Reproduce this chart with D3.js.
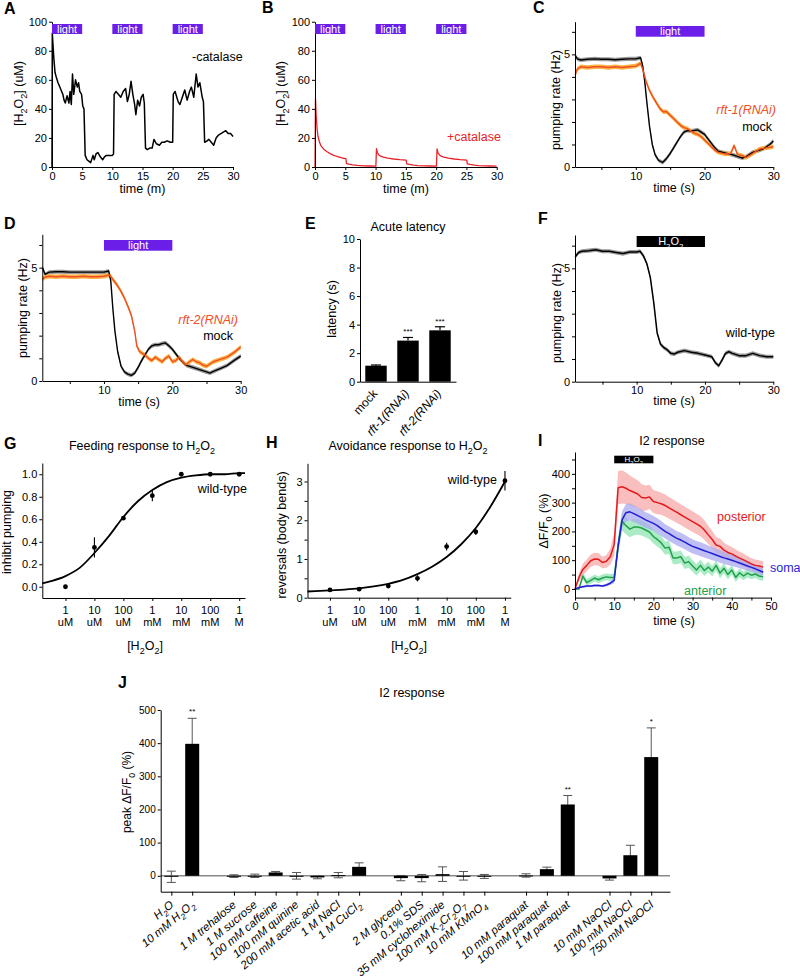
<!DOCTYPE html>
<html>
<head>
<meta charset="utf-8">
<script src="https://cdn.jsdelivr.net/npm/d3@7"></script>
<style>
  body { margin: 0; background: #fff; }
  svg { font-family: "Liberation Sans", Arial, sans-serif; background: #fff; }
</style>
</head>
<body>
<svg id="fig" width="800" height="980"></svg>
<script>
// A / B: H2O2 (uM) over time (min)
const lightMinutes = [[0, 5], [10, 15], [20, 25]]
const noCatalase = [[0,0],[0.05,92],[0.15,85],[0.3,75],[0.5,65],[0.7,62],[1.0,58],[1.3,55],[1.6,52],[1.8,50],[2.0,46],[2.2,44],[2.5,49],[2.8,44],[3.0,52],[3.2,43],[3.4,64],[3.6,50],[3.9,60],[4.2,55],[4.4,58],[4.6,52],[4.9,50],[5.1,42],[5.3,40],[5.5,8],[5.8,5],[6.1,4],[6.4,3],[6.8,8],[7.0,5],[7.3,9],[7.6,10],[8.0,7],[8.4,5],[8.7,7],[9.0,8],[9.5,8],[10.0,8],[10.2,9],[10.3,50],[10.6,52],[11.0,50],[11.4,48],[11.8,52],[12.2,54],[12.5,45],[12.8,50],[13.1,59],[13.4,50],[13.7,43],[13.9,36],[14.2,46],[14.5,42],[14.8,48],[15.1,50],[15.3,44],[15.5,13],[15.8,12],[16.2,13],[16.6,13],[16.9,19],[17.3,16],[17.8,15],[18.2,17],[18.6,17],[19.1,18],[19.6,17],[20.0,17],[20.1,50],[20.4,52],[20.9,45],[21.2,43],[21.6,48],[22.0,53],[22.4,46],[22.8,52],[23.1,55],[23.5,48],[23.9,64],[24.2,55],[24.5,58],[24.9,48],[25.1,45],[25.3,17],[25.7,18],[26.0,19],[26.4,17],[26.8,15],[27.2,20],[27.6,22],[28.0,23],[28.4,24],[28.8,25],[29.2,23],[29.6,23],[30.0,21]]
const withCatalase = [[0,0],[0.08,47],[0.2,35],[0.35,26],[0.5,21],[0.75,17],[1,14.5],[1.5,12],[2,10.5],[2.5,9.2],[3,8.2],[3.5,7.4],[4,6.8],[4.5,6.2],[5.1,5.8],[5.2,2.4],[5.6,2],[6.2,1.5],[7,1.1],[8,0.8],[9,0.7],[10.05,0.6],[10.15,12.6],[10.3,10],[10.5,8.5],[10.8,7.5],[11.3,6.8],[12,6.1],[13,5.5],[14,5.1],[15.05,4.8],[15.15,2.2],[15.6,1.8],[16.3,1.3],[17,1],[18,0.8],[19,0.7],[20.05,0.6],[20.15,12.4],[20.3,10],[20.5,8.5],[20.8,7.5],[21.3,6.8],[22,6.1],[23,5.5],[24,5.1],[25.05,4.8],[25.15,2.2],[25.6,1.8],[26.3,1.3],[27,1],[28,0.8],[29,0.7],[30,0.6]]

// C / D / F: pumping rate (Hz) over time (s)
const stimSeconds = [[10, 20]]
const mockC = [[1.2,4.95],[1.5,4.8],[2,4.75],[3,4.78],[4,4.8],[5,4.78],[6,4.78],[7,4.76],[8,4.78],[9,4.8],[10,4.8],[10.7,4.85],[11,4.5],[11.3,3.8],[11.6,2.9],[12,1.8],[12.4,1.0],[12.8,0.55],[13.3,0.3],[13.9,0.2],[14.4,0.35],[15,0.6],[15.5,0.85],[16,1.1],[16.5,1.35],[17,1.55],[17.5,1.62],[18,1.6],[18.5,1.62],[19,1.65],[19.5,1.55],[20,1.45],[20.5,1.25],[21,1.05],[21.5,0.85],[22,0.7],[23,0.62],[24,0.55],[25,0.45],[25.5,0.4],[26,0.45],[26.5,0.55],[27,0.65],[28,0.75],[28.5,0.8],[29,0.9],[29.5,1.0],[30,1.15]]
const rft1 = [[1.2,4.1],[1.5,4.35],[2,4.45],[3,4.42],[4,4.45],[5,4.45],[6,4.42],[7,4.45],[8,4.42],[9,4.45],[10,4.48],[10.7,4.6],[11,4.35],[11.5,3.8],[12,3.4],[12.5,3.1],[13,2.85],[13.5,2.6],[14,2.45],[14.5,2.45],[15,2.3],[15.5,2.15],[16,2.0],[16.5,1.85],[17,1.75],[17.5,1.7],[18,1.6],[18.5,1.5],[19,1.45],[19.5,1.35],[20,1.2],[20.5,1.05],[21,0.9],[21.5,0.75],[22,0.65],[23,0.58],[23.8,0.6],[24.3,0.95],[24.8,0.55],[25.5,0.5],[26,0.42],[26.5,0.5],[27,0.6],[28,0.8],[29,0.85],[30,0.9]]
const mockD = [[1,5.0],[1.4,4.7],[2,4.8],[3,4.82],[4,4.82],[5,4.8],[6,4.8],[7,4.8],[8,4.8],[9,4.8],[10,4.8],[10.7,4.85],[11,4.4],[11.3,3.2],[11.6,2.2],[12,1.3],[12.5,0.65],[13,0.4],[13.5,0.3],[14,0.25],[14.5,0.35],[15,0.6],[15.5,0.9],[16,1.15],[16.5,1.4],[17,1.55],[17.5,1.6],[18,1.6],[18.5,1.65],[19,1.68],[19.5,1.55],[20,1.4],[20.5,1.2],[21,1.0],[21.5,0.85],[22,0.7],[23,0.6],[24,0.5],[25,0.4],[25.5,0.35],[26,0.42],[27,0.55],[28,0.68],[29,0.9],[30,1.1]]
const rft2 = [[1,4.5],[1.5,4.6],[2,4.62],[3,4.6],[4,4.62],[5,4.6],[6,4.6],[7,4.62],[8,4.6],[9,4.6],[10,4.62],[10.8,4.68],[11.5,4.4],[12,4.2],[12.5,3.95],[13,3.65],[13.5,3.3],[14,2.9],[14.5,2.2],[14.8,1.55],[15.2,1.3],[15.7,1.2],[16,1.15],[16.5,1.0],[17,0.9],[17.5,1.05],[18,0.95],[18.5,0.85],[19,1.0],[19.5,1.1],[20,0.85],[20.5,0.9],[21,1.05],[21.5,0.85],[22,0.72],[22.5,0.85],[23,0.95],[23.5,0.85],[24,0.8],[24.5,0.7],[25,0.65],[25.5,0.75],[26,0.85],[27,0.95],[28,1.05],[29,1.25],[30,1.5]]
const wildTypeF = [[1,5.5],[1.5,5.7],[2,5.75],[3,5.78],[4,5.82],[5,5.75],[6,5.75],[7,5.7],[8,5.65],[9,5.72],[10,5.72],[10.5,5.75],[11,5.55],[11.5,5.2],[12,4.6],[12.5,3.5],[13,2.15],[13.5,1.65],[14,1.5],[14.5,1.4],[15,1.25],[15.5,1.22],[16,1.3],[17,1.37],[18,1.3],[19,1.25],[20,1.18],[21,1.1],[21.5,0.85],[22,0.7],[22.5,0.95],[23,1.25],[23.5,1.32],[24,1.25],[25,1.15],[26,1.15],[27,1.25],[28,1.15],[29,1.1],[30,1.1]]

// E: acute latency
const latencyGroups = ['mock', 'rft-1(RNAi)', 'rft-2(RNAi)']
const latencyMean = [1.12, 2.88, 3.6]
const latencyErr = [0.05, 0.22, 0.25]
const latencyStars = ['', '***', '***']

// G / H: dose response, x = log10 molar
const doseLog = [-6, -5, -4, -3, -2, -1, 0]
const doseNumber = ['1', '10', '100', '1', '10', '100', '1']
const doseUnit = ['uM', 'uM', 'uM', 'mM', 'mM', 'mM', 'M']
const feedMean = [0.0, 0.35, 0.61, 0.81, 1.0, 1.0, 1.0]
const feedErr = [0, 0.09, 0.01, 0.05, 0.01, 0.01, 0.01]
const feedFit = [[-6.8,0.03],[-6.5,0.05],[-6,0.095],[-5.5,0.17],[-5,0.3],[-4.5,0.45],[-4,0.62],[-3.5,0.76],[-3,0.86],[-2.5,0.93],[-2,0.97],[-1.5,0.99],[-1,1.0],[-0.5,1.0],[0,1.01],[0.2,1.01]]
const avoidMean = [0.2, 0.22, 0.3, 0.5, 1.32, 1.7, 3.02]
const avoidErr = [0.04, 0.03, 0.05, 0.08, 0.1, 0.08, 0.25]
const avoidFit = [[-6.77,0.16],[-6.5,0.17],[-6,0.19],[-5.5,0.21],[-5,0.24],[-4.5,0.29],[-4,0.36],[-3.5,0.46],[-3,0.61],[-2.5,0.8],[-2,1.05],[-1.5,1.38],[-1,1.8],[-0.5,2.35],[0,3.0]]

// I: I2 calcium response
const iTime = [0,1,2,3,4,5,6,7,8,9,10,11,12,13,14,15,16,17,18,19,20,21,22,23,24,25,26,27,28,29,30,31,32,33,34,35,36,37,38,39,40,41,42,43,44,45,46,47,48]
const posterior = [0,40,68,82,98,104,103,92,96,112,155,352,355,350,342,336,330,318,316,320,304,300,296,290,282,274,266,258,250,242,234,226,218,205,188,172,153,148,135,127,122,114,107,101,94,87,82,80,76]
const posteriorSem = [0,15,20,20,22,22,22,20,22,28,40,58,58,55,52,50,48,46,44,42,40,40,38,38,38,37,37,36,36,36,36,35,35,34,32,30,28,27,26,25,24,23,22,22,21,20,20,20,20]
const soma = [0,5,8,10,10,12,12,10,14,20,30,150,240,265,268,262,255,248,240,234,228,220,210,200,192,184,176,170,163,155,148,143,138,133,128,123,118,113,108,104,100,95,90,85,80,75,70,64,58]
const somaSem = [0,3,4,4,4,4,4,4,5,6,10,25,30,30,30,29,28,28,27,27,26,26,26,25,25,25,25,25,25,25,25,24,24,24,23,23,22,22,21,21,20,19,18,17,16,15,14,13,12]
const anterior = [0,0,45,22,30,38,32,38,42,40,40,150,235,220,208,215,215,212,205,198,182,172,160,142,145,108,108,112,90,95,80,66,82,64,76,62,82,55,72,50,66,40,56,45,55,48,52,45,42]
const anteriorSem = [0,5,12,12,12,12,12,12,12,12,15,30,32,30,28,28,27,26,25,25,24,24,24,23,23,22,22,22,21,21,20,20,20,19,19,18,18,18,17,17,16,16,15,15,15,14,14,14,14]

// J: peak I2 response per compound
const compounds = ['H_2O', '10 mM H_2O_2', '1 M trehalose', '1 M sucrose', '100 mM caffeine', '100 mM quinine', '200 mM acetic acid', '1 M NaCl', '1 M CuCl_2', '2 M glycerol', '0.1% SDS', '35 mM cycloheximide', '100 mM K_2Cr_2O_7', '10 mM KMnO_4', '10 mM paraquat', '100 mM paraquat', '1 M paraquat', '10 mM NaOCl', '100 mM NaOCl', '750 mM NaOCl']
const compoundGroup = [0,0,1,1,1,1,1,1,1,2,2,2,2,2,3,3,3,4,4,4]
const peakMean = [-3, 398, -1, 0, 10, 0, -5, 2, 27, -7, -7, 5, 0, -2, 1, 20, 215, -8, 62, 358]
const peakErr = [17, 77, 4, 5, 3, 10, 4, 8, 12, 8, 11, 22, 13, 6, 5, 6, 27, 5, 30, 88]
const peakStars = ['', '**', '', '', '', '', '', '', '', '', '', '', '', '', '', '', '**', '', '', '*']

const purple = '#6b1ee8'
const orange = '#f04e23'
const orangeBand = '#fbb448'
const FS = 12.5
const svg = d3.select('#fig')

// "_x" in a string makes x a subscript
function rich(t, str, size) {
    let low = false
    str.split(/(_[^_\s])/).filter(p => p).forEach(p => {
        if (p[0] === '_') {
            t.append('tspan').attr('dy', low ? 0 : size * 0.3).attr('font-size', size * 0.72).text(p[1])
            low = true
        } else {
            t.append('tspan').attr('dy', low ? -size * 0.3 : 0).text(p)
            low = false
        }
    })
    return t
}

function addText(x, y, str, o = {}) {
    const size = o.size || FS
    const t = svg.append('text').attr('x', x).attr('y', y)
        .attr('font-size', size)
        .attr('text-anchor', o.anchor || 'middle')
        .attr('fill', o.color || '#000')
    if (o.rotate) t.attr('transform', `rotate(${o.rotate},${x},${y})`)
    if (o.italic) t.attr('font-style', 'italic')
    if (o.bold) t.attr('font-weight', 'bold')
    return rich(t, str, size)
}

function styleAxis(g, size) {
    g.attr('font-family', null).attr('font-size', size)
    g.selectAll('text').attr('fill', '#000')
}

function leftAxis(y, x0, ticks, shown, fmt, size = 11) {
    const f = fmt || d3.format('d')
    svg.append('g').attr('transform', `translate(${x0},0)`)
        .call(d3.axisLeft(y).tickValues(ticks).tickSize(3).tickSizeOuter(0).tickPadding(2)
            .tickFormat(d => shown.includes(d) ? f(d) : ''))
        .call(g => styleAxis(g, size))
}

function bottomAxis(x, y0, ticks, shown, size = 11) {
    svg.append('g').attr('transform', `translate(0,${y0})`)
        .call(d3.axisBottom(x).tickValues(ticks).tickSize(3).tickSizeOuter(0).tickPadding(2)
            .tickFormat(d => shown.includes(d) ? d3.format('d')(d) : ''))
        .call(g => styleAxis(g, size))
}

function band(x, y, data, half, fill) {
    svg.append('path').datum(data).attr('fill', fill)
        .attr('d', d3.area().x(d => x(d[0])).y0(d => y(d[1] - half)).y1(d => y(d[1] + half)))
}

function trace(x, y, data, color, width) {
    svg.append('path').datum(data).attr('fill', 'none').attr('stroke', color)
        .attr('stroke-width', width).attr('stroke-linejoin', 'round')
        .attr('d', d3.line().x(d => x(d[0])).y(d => y(d[1])))
}

function stim(x, blocks, top, h, fill, label, size) {
    svg.append('g').selectAll('rect').data(blocks).join('rect')
        .attr('x', d => x(d[0])).attr('y', top)
        .attr('width', d => x(d[1]) - x(d[0])).attr('height', h)
        .attr('fill', fill)
    blocks.forEach(d => addText((x(d[0]) + x(d[1])) / 2, top + h / 2 + size * 0.36, label, { size, color: '#fff' }))
}

// ---------- A ----------
const xA = d3.scaleLinear().domain([0, 30]).range([52, 233])
const yA = d3.scaleLinear().domain([0, 100]).range([167, 21.7])
trace(xA, yA, noCatalase, '#000', 1.5)
leftAxis(yA, 52, [0, 20, 40, 60, 80, 100], [0, 20, 40, 60, 80, 100])
bottomAxis(xA, 167, [0, 5, 10, 15, 20, 25, 30], [0, 5, 10, 15, 20, 25, 30])
stim(xA, lightMinutes, 24, 10, purple, 'light', 11)
addText(4, 14, 'A', { anchor: 'start', bold: true, size: 16 })
addText(192, 61, '-catalase', { anchor: 'start' })
addText(142.5, 193, 'time (m)')
addText(23, 93.5, '[H_2O_2] (uM)', { rotate: -90 })

// ---------- B ----------
const xB = d3.scaleLinear().domain([0, 30]).range([315, 496.7])
const yB = d3.scaleLinear().domain([0, 100]).range([167, 21.7])
trace(xB, yB, withCatalase, '#e8222a', 1.3)
leftAxis(yB, 315, [0, 20, 40, 60, 80, 100], [0, 20, 40, 60, 80, 100])
bottomAxis(xB, 167, [0, 5, 10, 15, 20, 25, 30], [0, 5, 10, 15, 20, 25, 30])
stim(xB, lightMinutes, 24, 10, purple, 'light', 11)
addText(262, 13, 'B', { anchor: 'start', bold: true, size: 16 })
addText(447, 141, '+catalase', { anchor: 'start', color: '#e8222a' })
addText(406, 193, 'time (m)')
addText(285, 93.5, '[H_2O_2] (uM)', { rotate: -90 })

// ---------- C ----------
const xC = d3.scaleLinear().domain([1.16, 30]).range([575, 773.3])
const yC = d3.scaleLinear().domain([0, 6.45]).range([167, 21.7])
band(xC, yC, mockC, 0.09, '#9a9a9a')
band(xC, yC, rft1, 0.1, orangeBand)
trace(xC, yC, mockC, '#000', 1.4)
trace(xC, yC, rft1, orange, 1.4)
leftAxis(yC, 575, [0, 1, 2, 3, 4, 5, 6], [0, 5])
bottomAxis(xC, 167, [5, 10, 15, 20, 25, 30], [10, 20, 30])
stim(xC, stimSeconds, 26, 10.7, purple, 'light', 11)
addText(533, 13, 'C', { anchor: 'start', bold: true, size: 16 })
addText(776, 114, 'rft-1(RNAi)', { anchor: 'end', italic: true, color: orange })
addText(772, 131, 'mock', { anchor: 'end' })
addText(674, 192, 'time (s)')
addText(560, 100, 'pumping rate (Hz)', { rotate: -90 })

// ---------- D ----------
const xD = d3.scaleLinear().domain([0.98, 30]).range([42.3, 240.7])
const yD = d3.scaleLinear().domain([0, 6.47]).range([381, 234.3])
band(xD, yD, mockD, 0.09, '#9a9a9a')
band(xD, yD, rft2, 0.1, orangeBand)
trace(xD, yD, mockD, '#000', 1.4)
trace(xD, yD, rft2, orange, 1.4)
leftAxis(yD, 42.3, [0, 1, 2, 3, 4, 5, 6], [0, 5])
bottomAxis(xD, 381, [5, 10, 15, 20, 25, 30], [10, 20, 30])
stim(xD, stimSeconds, 240, 10.7, purple, 'light', 11)
addText(4, 229, 'D', { anchor: 'start', bold: true, size: 16 })
addText(238, 324, 'rft-2(RNAi)', { anchor: 'end', italic: true, color: orange })
addText(233, 340, 'mock', { anchor: 'end' })
addText(139, 406, 'time (s)')
addText(27, 308, 'pumping rate (Hz)', { rotate: -90 })

// ---------- E ----------
const xE = d3.scalePoint().domain(latencyGroups).range([360, 456]).padding(0.5)
const yE = d3.scaleLinear().domain([0, 10]).range([381.7, 239])
const bwE = xE.step() * 0.67
const eRows = latencyGroups.map((g, i) => ({ g, m: latencyMean[i], e: latencyErr[i], s: latencyStars[i], i }))
svg.append('g').selectAll('line').data(eRows).join('line')
    .attr('x1', d => xE(d.g)).attr('x2', d => xE(d.g))
    .attr('y1', d => yE(d.m)).attr('y2', d => yE(d.m + d.e))
    .attr('stroke', '#000').attr('stroke-width', 1.2)
svg.append('g').selectAll('line').data(eRows).join('line')
    .attr('x1', d => xE(d.g) - 5).attr('x2', d => xE(d.g) + 5)
    .attr('y1', d => yE(d.m + d.e)).attr('y2', d => yE(d.m + d.e))
    .attr('stroke', '#000').attr('stroke-width', 1.2)
svg.append('g').selectAll('rect').data(eRows).join('rect')
    .attr('x', d => xE(d.g) - bwE / 2).attr('y', d => yE(d.m))
    .attr('width', bwE).attr('height', d => yE(0) - yE(d.m))
    .attr('fill', '#000')
eRows.forEach(d => {
    if (d.s) addText(xE(d.g), yE(d.m + d.e) - 3, d.s, { size: 8 })
    addText(xE(d.g) + 2, 394, d.g, { anchor: 'end', rotate: -48, italic: d.i > 0, size: 12 })
})
leftAxis(yE, 360, [0, 2, 4, 6, 8, 10], [0, 2, 4, 6, 8, 10])
svg.append('g').attr('transform', `translate(0,${yE(0)})`)
    .call(d3.axisBottom(xE).tickSize(0).tickSizeOuter(0).tickFormat(''))
addText(305, 229, 'E', { anchor: 'start', bold: true, size: 16 })
addText(408, 231, 'Acute latency')
addText(336, 309, 'latency (s)', { rotate: -90 })

// ---------- F ----------
const xF = d3.scaleLinear().domain([0.98, 30]).range([575, 773.3])
const yF = d3.scaleLinear().domain([0, 6.47]).range([381.7, 235])
band(xF, yF, wildTypeF, 0.09, '#9a9a9a')
trace(xF, yF, wildTypeF, '#000', 1.5)
leftAxis(yF, 575, [0, 1, 2, 3, 4, 5, 6], [0, 5])
bottomAxis(xF, 381.7, [5, 10, 15, 20, 25, 30], [10, 20, 30])
stim(xF, stimSeconds, 236, 11, '#000', 'H_2O_2', 11)
addText(538, 224, 'F', { anchor: 'start', bold: true, size: 16 })
addText(775, 337, 'wild-type', { anchor: 'end' })
addText(674, 405, 'time (s)')
addText(561, 313, 'pumping rate (Hz)', { rotate: -90 })

// ---------- G / H shared ----------
function doseLabels(x, cx) {
    doseLog.forEach((v, i) => {
        addText(x(v), 614, doseNumber[i], { size: 11 })
        addText(x(v), 626, doseUnit[i], { size: 11 })
    })
    addText(cx, 650, '[H_2O_2]')
}

function dosePoints(x, y, mean, err) {
    const rows = doseLog.map((v, i) => ({ v, m: mean[i], e: err[i] }))
    svg.append('g').selectAll('line').data(rows).join('line')
        .attr('x1', d => x(d.v)).attr('x2', d => x(d.v))
        .attr('y1', d => y(d.m - d.e)).attr('y2', d => y(d.m + d.e))
        .attr('stroke', '#000').attr('stroke-width', 1.1)
    svg.append('g').selectAll('circle').data(rows).join('circle')
        .attr('cx', d => x(d.v)).attr('cy', d => y(d.m)).attr('r', 2.4).attr('fill', '#000')
}

// ---------- G ----------
const xG = d3.scaleLinear().domain([-6.8, 0.2]).range([42.3, 245])
const yG = d3.scaleLinear().domain([-0.1, 1.1]).range([598, 463])
svg.append('path').datum(feedFit).attr('fill', 'none').attr('stroke', '#000').attr('stroke-width', 1.8)
    .attr('d', d3.line().curve(d3.curveMonotoneX).x(d => xG(d[0])).y(d => yG(d[1])))
dosePoints(xG, yG, feedMean, feedErr)
leftAxis(yG, 42.3, [0, 0.2, 0.4, 0.6, 0.8, 1.0], [0, 0.2, 0.4, 0.6, 0.8, 1.0], d3.format('.1f'))
bottomAxis(xG, 598, doseLog, [])
doseLabels(xG, 145)
addText(4, 449, 'G', { anchor: 'start', bold: true, size: 16 })
addText(142, 450, 'Feeding response to H_2O_2')
addText(247, 493, 'wild-type', { anchor: 'end' })
addText(11, 532, 'inhibit pumping', { rotate: -90 })

// ---------- H ----------
const xH = d3.scaleLinear().domain([-6.77, 0.2]).range([307.5, 510.8])
const yH = d3.scaleLinear().domain([0, 3.47]).range([597.7, 463.3])
svg.append('path').datum(avoidFit).attr('fill', 'none').attr('stroke', '#000').attr('stroke-width', 1.8)
    .attr('d', d3.line().curve(d3.curveMonotoneX).x(d => xH(d[0])).y(d => yH(d[1])))
dosePoints(xH, yH, avoidMean, avoidErr)
leftAxis(yH, 307.5, [0, 0.5, 1, 1.5, 2, 2.5, 3], [0, 1, 2, 3])
bottomAxis(xH, 597.7, doseLog, [])
doseLabels(xH, 409)
addText(266, 448, 'H', { anchor: 'start', bold: true, size: 16 })
addText(408, 450, 'Avoidance response to H_2O_2')
addText(497, 484, 'wild-type', { anchor: 'end' })
addText(286, 535, 'reversals (body bends)', { rotate: -90 })

// ---------- I ----------
const xI = d3.scaleLinear().domain([0, 50]).range([575, 771])
const yI = d3.scaleLinear().domain([-30, 476]).range([597.6, 452])
const iSeries = [
    { v: posterior, s: posteriorSem, line: '#e41a1c', fill: '#f7a8a8' },
    { v: anterior, s: anteriorSem, line: '#22a04a', fill: '#8fe6b4' },
    { v: soma, s: somaSem, line: '#1f1fd6', fill: '#a9a9ef' }
]
iSeries.forEach(d => {
    const pts = iTime.map((t, i) => [t, d.v[i], d.s[i]])
    svg.append('path').datum(pts).attr('fill', d.fill).attr('fill-opacity', 0.75)
        .attr('d', d3.area().x(p => xI(p[0])).y0(p => yI(p[1] - p[2])).y1(p => yI(p[1] + p[2])))
})
iSeries.forEach(d => {
    trace(xI, yI, iTime.map((t, i) => [t, d.v[i]]), d.line, 1.5)
})
leftAxis(yI, 575, [0, 50, 100, 150, 200, 250, 300, 350, 400, 450], [0, 100, 200, 300, 400])
bottomAxis(xI, 597.6, [0, 5, 10, 15, 20, 25, 30, 35, 40, 45, 50], [0, 10, 20, 30, 40, 50])
stim(xI, stimSeconds, 455.7, 7.6, '#000', 'H_2O_2', 8)
addText(538, 446, 'I', { anchor: 'start', bold: true, size: 16 })
addText(672, 445, 'I2 response')
addText(717, 521, 'posterior', { anchor: 'start', color: '#e41a1c' })
addText(770, 572, 'soma', { anchor: 'start', color: '#1f1fd6' })
addText(684, 595, 'anterior', { anchor: 'start', color: '#22a04a' })
addText(674, 625, 'time (s)')
addText(548, 521, 'ΔF/F_0 (%)', { rotate: -90 })

// ---------- J ----------
const jRows = compounds.map((c, i) => ({ c, p: i + compoundGroup[i], m: peakMean[i], e: peakErr[i], s: peakStars[i] }))
const xJ = d3.scaleLinear().domain([-0.51, 23.9]).range([160.7, 670])
const yJ = d3.scaleLinear().domain([-48, 500]).range([891.7, 710])
const bwJ = 14
svg.append('line').attr('x1', xJ.range()[0]).attr('x2', xJ.range()[1])
    .attr('y1', yJ(0)).attr('y2', yJ(0)).attr('stroke', '#8a8a8a').attr('stroke-width', 1.5)
const errJ = svg.append('g').attr('stroke', '#555').attr('stroke-width', 1)
errJ.selectAll('line.v').data(jRows).join('line').attr('class', 'v')
    .attr('x1', d => xJ(d.p)).attr('x2', d => xJ(d.p))
    .attr('y1', d => yJ(d.m - d.e)).attr('y2', d => yJ(d.m + d.e))
errJ.selectAll('line.t').data(jRows).join('line').attr('class', 't')
    .attr('x1', d => xJ(d.p) - 4.5).attr('x2', d => xJ(d.p) + 4.5)
    .attr('y1', d => yJ(d.m + d.e)).attr('y2', d => yJ(d.m + d.e))
errJ.selectAll('line.b').data(jRows).join('line').attr('class', 'b')
    .attr('x1', d => xJ(d.p) - 4.5).attr('x2', d => xJ(d.p) + 4.5)
    .attr('y1', d => yJ(d.m - d.e)).attr('y2', d => yJ(d.m - d.e))
svg.append('g').selectAll('rect').data(jRows).join('rect')
    .attr('x', d => xJ(d.p) - bwJ / 2).attr('y', d => yJ(Math.max(d.m, 0)))
    .attr('width', bwJ).attr('height', d => Math.max(1, Math.abs(yJ(d.m) - yJ(0))))
    .attr('fill', '#000')
jRows.forEach(d => {
    if (d.s) addText(xJ(d.p), yJ(d.m + d.e) - 4, d.s, { size: 8 })
    addText(xJ(d.p) + 3, 906, d.c, { anchor: 'end', rotate: -40, italic: true, size: 11.5 })
})
leftAxis(yJ, 160.7, [0, 100, 200, 300, 400, 500], [0, 100, 200, 300, 400, 500], d3.format('d'), 10)
svg.append('g').attr('transform', `translate(0,${yJ(-48)})`)
    .call(d3.axisBottom(xJ).tickValues(jRows.map(d => d.p)).tickSize(4).tickSizeOuter(0).tickFormat(''))
addText(118, 688, 'J', { anchor: 'start', bold: true, size: 16 })
addText(412, 697, 'I2 response')
addText(131, 792, 'peak ΔF/F_0 (%)', { rotate: -90, size: 12 })
</script>
</body>
</html>
